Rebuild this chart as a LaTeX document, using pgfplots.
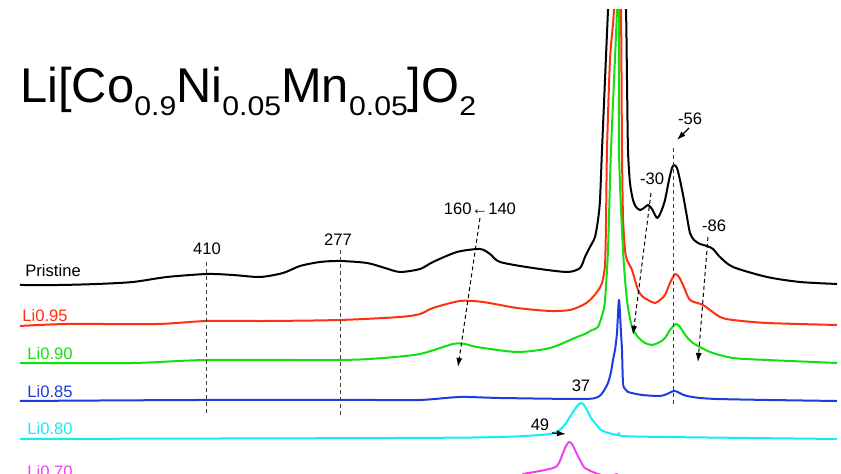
\documentclass[border=0pt]{standalone}
\usepackage{pgfplots}
\pgfplotsset{compat=1.18}
\usepackage{fontspec}
\setmainfont{Liberation Sans}
\usetikzlibrary{arrows.meta}
\definecolor{cRed}{HTML}{FF3010}
\definecolor{cGreen}{HTML}{10E010}
\definecolor{cBlue}{HTML}{1C3CE0}
\definecolor{cCyan}{HTML}{10EEF8}
\definecolor{cMag}{HTML}{F040F0}
\definecolor{cDash}{HTML}{404040}
\newcommand{\sub}[1]{\raisebox{-6.5pt}{\scalebox{1.12}[1]{\fontsize{13.5}{13.5}\selectfont #1}}}
\begin{document}
\begin{tikzpicture}[
  lab/.style={font=\fontsize{8.3}{9}\selectfont},
  dl/.style={dash pattern=on 2pt off 1.5pt, line width=0.5pt, draw=cDash},
  da/.style={dash pattern=on 2pt off 1.5pt, line width=0.5pt, draw=black, -{Latex[length=4.5pt,width=3pt]}},
  sa/.style={line width=0.6pt, draw=black, -{Latex[length=4.5pt,width=3pt]}}]
\begin{axis}[width=420.5pt, height=232pt, scale only axis,
  xmin=-224, xmax=617, x dir=reverse, ymin=0, ymax=464,
  hide axis, clip=true,
  every axis plot/.append style={line width=1pt, line join=round, smooth, tension=0.45}]
% Pristine
\addplot[black] coordinates {
(597,189)(557,189)(520,190)(484,192)(450,197)(410,200)(384,199)(357,197)(334,201)(317,208)(297,212)(277,213)(250,211)(232,206)(217,202)(197,205)(184,212)(160,222)(137,225)(127,220)(117,212)(84,206)(50,202)(37,206)(32,217)(27,227)(22,237)(19,254)(17,274)(15,324)(12,394)(9,464)(6,534)(0,724)
(-6,534)(-9,464)(-10,394)(-11,324)(-13,291)(-16,274)(-19,267)(-23,264)(-27,266)(-31,269)(-35,265)(-40,256)(-44,262)(-48,274)(-52,294)(-55,306)(-57,309)(-60,306)(-63,294)(-67,274)(-70,257)(-73,241)(-77,234)(-83,230)(-90,228)(-96,225)(-103,217)(-116,207)(-150,197)(-183,192)(-220,190)};
% Li0.95
\addplot[cRed] coordinates {
(597,148)(550,150)(460,150)(410,153)(350,153)(277,154)(217,157)(197,160)(184,166)(157,173)(134,172)(100,166)(67,163)(47,164)(34,169)(27,174)(20,182)(15,191)(12,209)(11,250)(10,324)(7,414)(3,464)(1,534)(0,674)
(-2,534)(-4,464)(-5,324)(-6,257)(-8,224)(-10,214)(-15,204)(-21,184)(-26,177)(-31,174)(-38,171)(-43,174)(-48,179)(-53,191)(-58,200)(-62,197)(-66,189)(-73,174)(-86,169)(-103,157)(-116,154)(-150,151)(-220,149)};
% Li0.90
\addplot[cGreen] coordinates {
(597,111)(484,111)(410,114)(277,114)(234,116)(197,120)(164,130)(152,130)(140,127)(100,122)(67,126)(40,137)(32,140)(25,144)(19,147)(14,162)(12,174)(9,224)(6,324)(0,464)(-1,534)
(-2,464)(-2,324)(-6,224)(-10,174)(-15,147)(-21,137)(-28,131)(-35,129)(-43,132)(-48,136)(-53,144)(-59,150)(-63,147)(-69,138)(-76,131)(-93,122)(-116,116)(-150,114)(-220,111)};
% Li0.85
\addplot[cBlue] coordinates {
(597,73)(417,74)(250,74)(197,74)(157,77)(117,76)(34,75)(19,77)(14,82)(9,91)(6,102)(4,114)(2,124)(0,141)(-2,174)(-4,141)(-5,124)(-6,91)(-8,85)(-11,82)(-25,79)(-43,78)(-50,80)(-58,83)(-70,78)(-100,75)(-220,73)};
% Li0.80
\addplot[cCyan] coordinates {
(597,35)(217,36)(117,37)(67,40)(54,47)(49,54)(44,62)(39,69)(36,71)(33,69)(30,64)(26,56)(22,51)(17,45)(12,42)(0,39)(-2,41)(-5,38)(-48,37)(-220,35)};
% Li0.70
\addplot[cMag] coordinates {
(597,-3)(107,-3)(94,0)(72,4)(60,8)(54,21)(51,28)(48,32)(45,30)(42,24)(37,14)(32,6)(19,0)(7,-2)(0,0)(-3,-2)(-83,-3)(-220,-3)};
\coordinate (bl) at (axis cs:617,0);
\coordinate (tr) at (axis cs:-224,474);
% labels
\node[lab, inner sep=0pt, anchor=base west] at (axis cs:592,197) {Pristine};
\node[lab, inner sep=0pt, anchor=base west, text=cRed] at (axis cs:595,152) {Li0.95};
\node[lab, inner sep=0pt, anchor=base west, text=cGreen] at (axis cs:590,114) {Li0.90};
\node[lab, inner sep=0pt, anchor=base west, text=cBlue] at (axis cs:590,76) {Li0.85};
\node[lab, inner sep=0pt, anchor=base west, text=cCyan] at (axis cs:590,39) {Li0.80};
\node[lab, inner sep=0pt, anchor=base west, text=cMag] at (axis cs:590,-4) {Li0.70};
% annotations
\node[lab, anchor=base] at (axis cs:410,219) {410};
\draw[dl] (axis cs:410,212) -- (axis cs:410,59);
\node[lab, anchor=base] at (axis cs:279,228) {277};
\draw[dl] (axis cs:276,224) -- (axis cs:276,56);
\node[lab, anchor=base] at (axis cs:137,259) {160←140};
\draw[da] (axis cs:137,256) -- (axis cs:159,107);
\node[lab, anchor=base] at (axis cs:-35,289) {-30};
\draw[da] (axis cs:-34,281) -- (axis cs:-16,139);
\node[lab, anchor=base] at (axis cs:-73,349) {-56};
\draw[sa] (axis cs:-72,346) -- (axis cs:-60,334);
\draw[dl] (axis cs:-57,326) -- (axis cs:-57,69);
\node[lab, anchor=base] at (axis cs:-97,242) {-86};
\draw[da] (axis cs:-91,237) -- (axis cs:-81,112);
\node[lab, anchor=base] at (axis cs:36,82) {37};
\node[lab, anchor=base] at (axis cs:77,43) {49};
\draw[sa] (axis cs:65,41) -- (axis cs:51,40);
% title
\node[anchor=base west, inner sep=0pt, font=\fontsize{24.4}{26}\selectfont] at (axis cs:597,371)
 {Li[Co\sub{0.9}Ni\sub{0.05}Mn\sub{0.05}]O\sub{2}};
\end{axis}
\pgfresetboundingbox
\path[use as bounding box] (bl) rectangle (tr);
\end{tikzpicture}
\end{document}
